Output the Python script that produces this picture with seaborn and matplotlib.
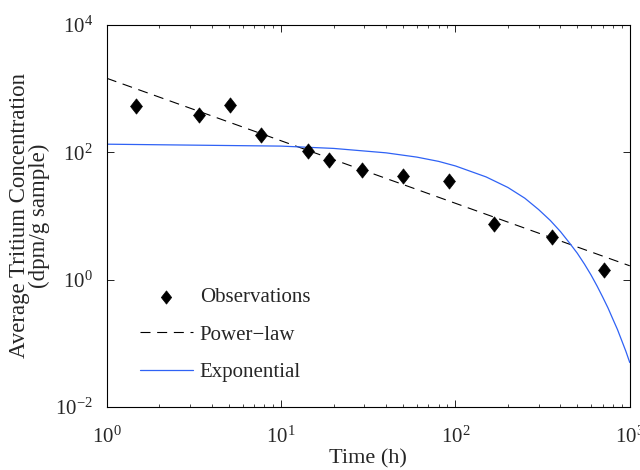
import numpy as np
import pandas as pd
import matplotlib
matplotlib.use("Agg")
import matplotlib.pyplot as plt
import seaborn as sns
from matplotlib.path import Path
from matplotlib.ticker import LogLocator, LogFormatterMathtext, NullLocator

# observed concentrations
obs_time = [1.46, 3.36, 5.1, 7.67, 14.2, 18.7, 29.2, 50, 91.5, 167, 357, 710]
obs_conc = [541, 390, 553, 187, 104, 77, 53, 43, 35, 7.5, 4.6, 1.41]

# power-law fit (straight on log-log, read at the ends)
pl_time = [1, 1000]
pl_conc = [1450, 1.65]

# exponential fit
exp_time = [1, 10, 20, 40, 60, 80, 100, 150, 200, 250, 300, 350, 400,
            450, 500, 550, 600, 650, 700, 750, 800, 850, 900, 950, 1000]
exp_conc = [134, 125, 115, 98, 84, 72, 61, 41, 28, 19, 12.6, 8.5, 5.7,
            3.8, 2.6, 1.75, 1.18, 0.79, 0.53, 0.36, 0.24, 0.165, 0.11,
            0.075, 0.05]

obs = pd.DataFrame({'Time': obs_time, 'Conc': obs_conc})
pl = pd.DataFrame({'Time': pl_time, 'Conc': pl_conc})
ex = pd.DataFrame({'Time': exp_time, 'Conc': exp_conc})

# matlab style diamond (a bit wider than matplotlib's 'd')
diamond = Path([(0, 1), (0.78, 0), (0, -1), (-0.78, 0), (0, 1)],
               [Path.MOVETO, Path.LINETO, Path.LINETO, Path.LINETO, Path.CLOSEPOLY])

sns.set_theme(style='ticks')
plt.rcParams['font.family'] = ['Liberation Serif', 'DejaVu Serif']
plt.rcParams['mathtext.fontset'] = 'stix'
plt.rcParams['xtick.direction'] = 'in'
plt.rcParams['ytick.direction'] = 'in'

fig = plt.figure(figsize=(6.4, 4.7), dpi=100)
ax = fig.add_axes([0.167, 0.134, 0.817, 0.813])

sns.scatterplot(
    data=obs, x='Time', y='Conc',
    marker=diamond, s=120, color='black', edgecolor='black', linewidth=0.5,
    label='Observations', ax=ax, zorder=3
)

sns.lineplot(
    data=pl, x='Time', y='Conc',
    color='black', linewidth=0.8, linestyle=(0, (9, 6)),
    label='Power\u2212law', ax=ax
)

sns.lineplot(
    data=ex, x='Time', y='Conc',
    color='#2f62f5', linewidth=0.9,
    label='Exponential', ax=ax
)

ax.set_xscale('log')
ax.set_yscale('log')
ax.set_xlim(1, 1000)
ax.set_ylim(1e-2, 1e4)

ax.xaxis.set_major_locator(LogLocator(base=10, numticks=10))
ax.xaxis.set_minor_locator(LogLocator(base=10, subs=np.arange(2, 10), numticks=10))
ax.yaxis.set_major_locator(LogLocator(base=100, numticks=10))
ax.yaxis.set_minor_locator(NullLocator())
ax.xaxis.set_major_formatter(LogFormatterMathtext())
ax.yaxis.set_major_formatter(LogFormatterMathtext())

ax.tick_params(which='both', top=True, right=True, labelsize=15, color='black')
ax.tick_params(which='major', length=5, width=0.6)
ax.tick_params(which='minor', length=2.5, width=0.5)
ax.tick_params(axis='x', which='major', pad=14)
ax.tick_params(axis='y', which='major', pad=10)
for sp in ax.spines.values():
    sp.set_linewidth(0.8)
    sp.set_color('black')

ax.set_xlabel('Time (h)', fontsize=16, labelpad=1)
ax.set_ylabel('Average Tritium Concentration\n(dpm/g sample)', fontsize=16.5,
              labelpad=4, linespacing=0.9)

ax.legend(
    loc='upper left', bbox_to_anchor=(0.047, 0.334), frameon=False,
    fontsize=15, handlelength=2.55, labelspacing=0.85, handletextpad=0.33,
    markerscale=0.87, borderaxespad=0
)

plt.savefig('out.png', dpi=100)
